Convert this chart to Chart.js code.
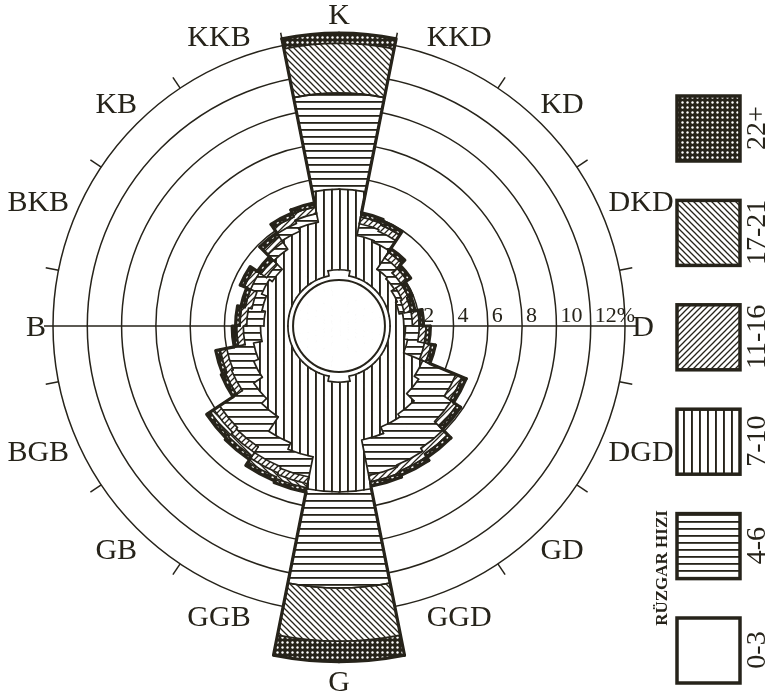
<!DOCTYPE html>
<html>
<head>
<meta charset="utf-8">
<script src="https://cdn.jsdelivr.net/npm/chart.js@4.4.1/dist/chart.umd.min.js"></script>
<style>
  html, body { margin: 0; padding: 0; background: #fff; }
  #wrap { width: 770px; height: 698px; }
</style>
</head>
<body>
<div id="wrap"><canvas id="windRose" width="770" height="698"></canvas></div>
<script>
// 32 sectors of 11.25 deg, clockwise from north (K)
const sectors = ['0', '11.25', '22.5', '33.75', '45', '56.25', '67.5', '78.75',
  '90', '101.25', '112.5', '123.75', '135', '146.25', '157.5', '168.75',
  '180', '191.25', '202.5', '213.75', '225', '236.25', '247.5', '258.75',
  '270', '281.25', '292.5', '303.75', '315', '326.25', '337.5', '348.75'];
const directions = ['K', 'KKD', 'KD', 'DKD', 'D', 'DGD', 'GD', 'GGD',
  'G', 'GGB', 'GB', 'BGB', 'B', 'BKB', 'KB', 'KKB'];
const ringValues = [0, 2, 4, 6, 8, 10, 12, 14];
const ringLabels = ['2', '4', '6', '8', '10', '12%'];
const speedClasses = ['22+', '17-21', '11-16', '7-10', '4-6', '0-3'];

// frequency (%) per sector for each wind speed class
const speed0_3 = [0.6, 0.3, 0.3, 0.3, 0.3, 0.3, 0.3, 0.3, 0.3, 0.3, 0.3, 0.3, 0.3, 0.3, 0.3, 0.6,
  0.6, 0.3, 0.3, 0.3, 0.3, 0.3, 0.3, 0.3, 0.3, 0.3, 0.3, 0.3, 0.3, 0.3, 0.3, 0.6];
const speed7_10 = [4.7, 2.4, 2.3, 1.0, 0.9, 0.7, 0.6, 0.8, 0.9, 1.1, 2.3, 2.6, 3.2, 3.4, 3.8, 6.4,
  6.4, 4.8, 4.4, 3.4, 3.0, 2.4, 2.1, 1.6, 1.4, 1.6, 1.9, 1.7, 2.4, 3.0, 3.2, 4.7];
const speed4_6 = [5.6, 0.7, 0.7, 0.8, 0.5, 0.3, 0.3, 0.5, 0.8, 1.0, 2.1, 2.3, 2.4, 2.4, 2.1, 5.6,
  5.6, 1.2, 1.5, 2.1, 2.4, 1.4, 1.6, 1.0, 1.0, 0.6, 0.7, 0.4, 0.5, 0.5, 0.5, 5.6];
const speed11_16 = [0, 0.4, 0.4, 0.4, 0.4, 0.4, 0.4, 0.4, 0.4, 0.4, 0.4, 0.4, 0.4, 0.4, 0.4, 0,
  0, 0.4, 0.4, 0.4, 0.4, 0.4, 0.4, 0.4, 0.4, 0.4, 0.4, 0.4, 0.4, 0.4, 0.4, 0];
const speed17_21 = [2.9, 0, 0, 0, 0, 0, 0, 0, 0, 0, 0, 0, 0, 0, 0, 3.1,
  3.1, 0.25, 0.25, 0.25, 0.25, 0, 0, 0, 0, 0, 0, 0, 0, 0, 0, 2.9];
const speed22p = [0.6, 0.25, 0.25, 0.25, 0.25, 0.25, 0.25, 0.25, 0.25, 0.25, 0.25, 0.25, 0.25, 0.25, 0.25, 1.2,
  1.2, 0.25, 0.25, 0.25, 0.25, 0.25, 0.25, 0.25, 0.25, 0.25, 0.25, 0.25, 0.25, 0.25, 0.25, 0.6];

const ink = '#26231a';
const serif = '"Liberation Serif", "Times New Roman", serif';
const canvas = document.getElementById('windRose');
const ctx0 = canvas.getContext('2d');

function makePattern(kind) {
  const s = kind === 'dots' ? 5 : kind === 'v' ? 8 : kind === 'h' ? 7 : 6;
  const c = document.createElement('canvas');
  c.width = s; c.height = s;
  const g = c.getContext('2d');
  g.fillStyle = kind === 'dots' ? ink : '#fff';
  g.fillRect(0, 0, s, s);
  g.fillStyle = ink;
  g.strokeStyle = ink;
  g.lineWidth = 1.3;
  if (kind === 'v') g.fillRect(3, 0, 1.9, s);
  if (kind === 'h') g.fillRect(0, 3, s, 1.8);
  if (kind === 'fwd') {
    g.beginPath();
    g.moveTo(0, s); g.lineTo(s, 0);
    g.moveTo(-1, 1); g.lineTo(1, -1);
    g.moveTo(s - 1, s + 1); g.lineTo(s + 1, s - 1);
    g.stroke();
  }
  if (kind === 'back') {
    g.beginPath();
    g.moveTo(0, 0); g.lineTo(s, s);
    g.moveTo(-1, s - 1); g.lineTo(1, s + 1);
    g.moveTo(s - 1, -1); g.lineTo(s + 1, 1);
    g.stroke();
  }
  if (kind === 'dots') {
    g.fillStyle = '#fff';
    g.beginPath();
    g.arc(s / 2, s / 2, 1.2, 0, Math.PI * 2);
    g.fill();
  }
  return ctx0.createPattern(c, 'repeat');
}

const fills = {
  '0-3': '#ffffff',
  '4-6': makePattern('h'),
  '7-10': makePattern('v'),
  '11-16': makePattern('fwd'),
  '17-21': makePattern('back'),
  '22+': makePattern('dots')
};

// drawn order from the centre outwards (as in the drawing)
const stack = [['0-3', speed0_3], ['7-10', speed7_10], ['4-6', speed4_6],
  ['11-16', speed11_16], ['17-21', speed17_21], ['22+', speed22p]];

let running = sectors.map(() => 0);
const datasets = stack.map(([name, vals]) => {
  running = running.map((t, i) => t + vals[i]);
  return {
    label: name,
    data: running.slice(),
    backgroundColor: fills[name],
    borderColor: fills[name],
    borderWidth: 1,
    clip: false
  };
});

// distance along a direction so that the label box sits just outside radius r0
function labelDistance(sn, cs, w, h, r0) {
  let d = r0;
  for (; d < r0 + 80; d += 0.5) {
    const x = d * sn - Math.sign(sn) * w / 2;
    const y = d * cs - Math.sign(cs) * h / 2;
    if (Math.hypot(x, y) >= r0) break;
  }
  return d;
}

const roseDecor = {
  id: 'roseDecor',
  beforeDatasetsDraw(chart) {
    const s = chart.scales.r, ctx = chart.ctx;
    const cx = s.xCenter, cy = s.yCenter, R = s.drawingArea;
    ctx.save();
    ctx.strokeStyle = ink;
    ctx.lineWidth = 1.5;
    ctx.beginPath();
    ctx.moveTo(cx - R - 9, cy);
    ctx.lineTo(cx + R + 12, cy);
    ctx.stroke();
    for (let k = 0; k < 16; k++) {
      const a = (11.25 + 22.5 * k) * Math.PI / 180;
      ctx.beginPath();
      ctx.moveTo(cx + R * Math.sin(a), cy - R * Math.cos(a));
      ctx.lineTo(cx + (R + 13) * Math.sin(a), cy - (R + 13) * Math.cos(a));
      ctx.stroke();
    }
    ctx.restore();
  },
  afterDatasetsDraw(chart) {
    const s = chart.scales.r, ctx = chart.ctx;
    const cx = s.xCenter, cy = s.yCenter, R = s.drawingArea;
    const n = chart.data.datasets.length;
    ctx.save();
    ctx.strokeStyle = ink;
    ctx.lineCap = 'round';
    // band outlines with steps between sectors
    chart.data.datasets.forEach((ds, di) => {
      const arcs = chart.getDatasetMeta(di).data;
      ctx.lineWidth = di === n - 1 ? 3.2 : 1.7;
      arcs.forEach((a, i) => {
        const b = arcs[(i + 1) % arcs.length];
        const r1 = Math.min(a.outerRadius, b.outerRadius);
        const r2 = Math.max(a.outerRadius, b.outerRadius);
        ctx.beginPath();
        ctx.arc(a.x, a.y, a.outerRadius, a.startAngle, a.endAngle);
        ctx.moveTo(a.x + r1 * Math.cos(a.endAngle), a.y + r1 * Math.sin(a.endAngle));
        ctx.lineTo(a.x + r2 * Math.cos(a.endAngle), a.y + r2 * Math.sin(a.endAngle));
        ctx.stroke();
      });
    });
    // calm circle
    ctx.lineWidth = 2;
    ctx.beginPath();
    ctx.arc(cx, cy, s.getDistanceFromCenterForValue(0), 0, Math.PI * 2);
    ctx.stroke();

    // ring labels along the D axis
    ctx.fillStyle = ink;
    ctx.font = '22px ' + serif;
    ctx.textAlign = 'left';
    ctx.textBaseline = 'alphabetic';
    ringLabels.forEach((t, i) => {
      const r = s.getDistanceFromCenterForValue(ringValues[i + 1]);
      ctx.fillText(t, cx + r + 4, cy - 4);
    });

    // direction labels
    const outer = chart.getDatasetMeta(n - 1).data;
    ctx.font = '30px ' + serif;
    ctx.textAlign = 'center';
    directions.forEach((d, i) => {
      const deg = i * 22.5, a = deg * Math.PI / 180;
      const k = Math.round(deg / 11.25) % 32;
      const barR = Math.max(outer[k].outerRadius, outer[(k + 31) % 32].outerRadius);
      const base = Math.max(R, barR + 2) + 7;
      const w = ctx.measureText(d).width, h = 20;
      const sn = Math.sin(a), cs = Math.cos(a);
      const dist = labelDistance(sn, cs, w, h, base);
      ctx.fillText(d, cx + dist * sn, cy - dist * cs + h / 2);
    });

    // legend
    speedClasses.forEach((name, i) => {
      const top = 96 + i * 104.4;
      ctx.fillStyle = fills[name];
      ctx.fillRect(677, top, 63, 65);
      ctx.lineWidth = 3.5;
      ctx.strokeRect(677, top, 63, 65);
      ctx.save();
      ctx.translate(758, top + 32);
      ctx.rotate(-Math.PI / 2);
      ctx.fillStyle = ink;
      ctx.font = '28px ' + serif;
      ctx.textAlign = 'center';
      ctx.textBaseline = 'middle';
      ctx.fillText(name, 0, 0);
      ctx.restore();
    });
    ctx.save();
    ctx.translate(663, 568);
    ctx.rotate(-Math.PI / 2);
    ctx.fillStyle = ink;
    ctx.font = 'bold 17px ' + serif;
    ctx.textAlign = 'center';
    ctx.textBaseline = 'middle';
    ctx.fillText('RÜZGAR HIZI', 0, 0);
    ctx.restore();
    ctx.restore();
  }
};

new Chart(canvas, {
  type: 'polarArea',
  data: { labels: sectors, datasets: datasets },
  options: {
    responsive: false,
    animation: false,
    devicePixelRatio: 1,
    layout: { padding: { left: 53, right: 145, top: 40, bottom: 86 } },
    plugins: { legend: { display: false }, tooltip: { enabled: false } },
    scales: {
      r: {
        min: -2.68,
        max: 14,
        startAngle: 0,
        ticks: { display: false },
        grid: { color: ink, lineWidth: 1.5, circular: true },
        angleLines: { display: false },
        pointLabels: { display: false },
        afterBuildTicks: (scale) => {
          scale.ticks = ringValues.map(v => ({ value: v }));
        }
      }
    }
  },
  plugins: [roseDecor]
});
</script>
</body>
</html>
